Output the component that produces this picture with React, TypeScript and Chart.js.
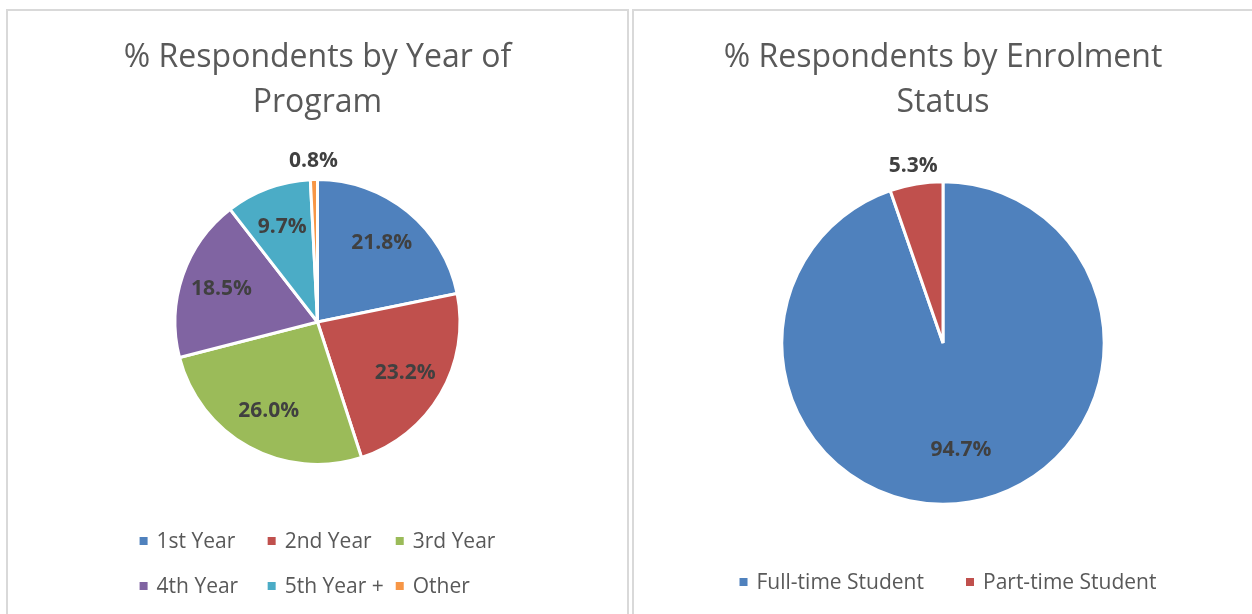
import React, { useEffect, useRef } from "react";
import { Chart, registerables } from "chart.js";

Chart.register(...registerables);

// ---------- data ----------
const yearTitle = ["% Respondents by Year of", "Program"];
const yearLabels = ["1st Year", "2nd Year", "3rd Year", "4th Year", "5th Year +", "Other"];
const yearValues = [21.8, 23.2, 26.0, 18.5, 9.7, 0.8];
const yearColors = ["#4F81BD", "#C0504D", "#9BBB59", "#8064A2", "#4BACC6", "#F79646"];

const statusTitle = ["% Respondents by Enrolment", "Status"];
const statusLabels = ["Full-time Student", "Part-time Student"];
const statusValues = [94.7, 5.3];
const statusColors = ["#4F81BD", "#C0504D"];

// ---------- plugins ----------
const BORDER = 3;
const FONT = "'Open Sans'";

const pieLabelPlugin = {
  id: "pieLabels",
  afterDatasetsDraw(chart: any, _args: any, opts: any) {
    const ctx = chart.ctx;
    const meta = chart.getDatasetMeta(0);
    const data = chart.data.datasets[0].data as number[];
    ctx.save();
    ctx.font = `bold ${opts.size}px ${opts.family}`;
    ctx.fillStyle = opts.color;
    ctx.textAlign = "center";
    ctx.textBaseline = "middle";
    meta.data.forEach((arc: any, i: number) => {
      const p = arc.getProps(["x", "y", "startAngle", "endAngle", "outerRadius"], true);
      const mid = (p.startAngle + p.endAngle) / 2;
      const visR = p.outerRadius - BORDER / 2;
      const r = data[i] < opts.outsideBelow ? visR + opts.outsideGap : visR * opts.insideRatio;
      ctx.fillText(data[i].toFixed(1) + "%", p.x + Math.cos(mid) * r, p.y + Math.sin(mid) * r);
    });
    ctx.restore();
  },
};

const gridLegendPlugin = {
  id: "gridLegend",
  afterDraw(chart: any, _args: any, opts: any) {
    const ctx = chart.ctx;
    const labels = chart.data.labels as string[];
    const colors = chart.data.datasets[0].backgroundColor as string[];
    ctx.save();
    ctx.font = `${opts.size}px ${opts.family}`;
    const widths = labels.map((l) => opts.box + opts.boxGap + ctx.measureText(l).width);
    const colW = Math.max(...widths) + opts.colGap;
    const cols = opts.columns;
    const rows = Math.ceil(labels.length / cols);
    let extent = 0;
    for (let r = 0; r < rows; r++) {
      const last = Math.min(labels.length, (r + 1) * cols) - 1;
      const c = last - r * cols;
      extent = Math.max(extent, c * colW + widths[last]);
    }
    const startX = chart.width / 2 - extent / 2 + (opts.offsetX || 0);
    ctx.textBaseline = "middle";
    ctx.textAlign = "left";
    labels.forEach((l, i) => {
      const r = Math.floor(i / cols);
      const c = i % cols;
      const x = startX + c * colW;
      const y = opts.top + r * opts.rowGap;
      ctx.fillStyle = colors[i];
      ctx.fillRect(x, y - opts.box / 2, opts.box, opts.box);
      ctx.fillStyle = opts.color;
      ctx.fillText(l, x + opts.box + opts.boxGap, y + 1);
    });
    ctx.restore();
  },
};

// ---------- component ----------
type PieProps = {
  title: string[];
  labels: string[];
  values: number[];
  colors: string[];
  width: number;
  height: number;
  radius: number;
  padBottom: number;
  insideRatio: number;
  legendTop: number;
  legendCols: number;
  legendColGap: number;
  legendOffsetX: number;
};

function PieChart(props: PieProps) {
  const ref = useRef<HTMLCanvasElement>(null);
  useEffect(() => {
    const chart = new Chart(ref.current as HTMLCanvasElement, {
      type: "pie",
      data: {
        labels: props.labels,
        datasets: [
          {
            data: props.values,
            backgroundColor: props.colors,
            borderColor: "#ffffff",
            borderWidth: BORDER,
            radius: props.radius,
          } as any,
        ],
      },
      options: {
        responsive: false,
        animation: false,
        layout: { padding: { top: 0, bottom: props.padBottom, left: 0, right: 0 } },
        plugins: {
          legend: { display: false },
          tooltip: { enabled: false },
          title: {
            display: true,
            text: props.title,
            color: "#595959",
            font: { family: FONT, size: 32, weight: "normal" as any, lineHeight: 1.40625 },
            padding: { top: 24, bottom: 0 },
          },
          pieLabels: {
            family: FONT,
            size: 21,
            color: "#404040",
            insideRatio: props.insideRatio,
            outsideBelow: 6,
            outsideGap: 20,
          },
          gridLegend: {
            family: FONT,
            size: 21,
            color: "#595959",
            box: 8,
            boxGap: 9,
            colGap: props.legendColGap,
            columns: props.legendCols,
            rowGap: 45,
            top: props.legendTop,
            offsetX: props.legendOffsetX,
          },
        } as any,
      },
      plugins: [pieLabelPlugin, gridLegendPlugin],
    });
    return () => chart.destroy();
  }, []);
  return (
    <canvas
      ref={ref}
      width={props.width}
      height={props.height}
      style={{ display: "block", width: props.width, height: props.height }}
    />
  );
}

export default function App() {
  return (
    <div
      style={{
        position: "fixed",
        left: 0,
        top: 0,
        width: 1252,
        height: 614,
        overflow: "hidden",
        background: "#ffffff",
      }}
    >
      <div
        style={{
          position: "absolute",
          left: 6,
          top: 9,
          width: 623,
          height: 640,
          border: "2px solid #d9d9d9",
          boxSizing: "border-box",
        }}
      >
        <PieChart
          title={yearTitle}
          labels={yearLabels}
          values={yearValues}
          colors={yearColors}
          width={619}
          height={603}
          radius={142.5}
          padBottom={95}
          insideRatio={0.72}
          legendTop={530}
          legendCols={3}
          legendColGap={12}
          legendOffsetX={0}
        />
      </div>
      <div
        style={{
          position: "absolute",
          left: 632,
          top: 9,
          width: 640,
          height: 640,
          border: "2px solid #d9d9d9",
          boxSizing: "border-box",
        }}
      >
        <PieChart
          title={statusTitle}
          labels={statusLabels}
          values={statusValues}
          colors={statusColors}
          width={618}
          height={603}
          radius={161.2}
          padBottom={53}
          insideRatio={0.68}
          legendTop={571}
          legendCols={2}
          legendColGap={36}
          legendOffsetX={5}
        />
      </div>
    </div>
  );
}
